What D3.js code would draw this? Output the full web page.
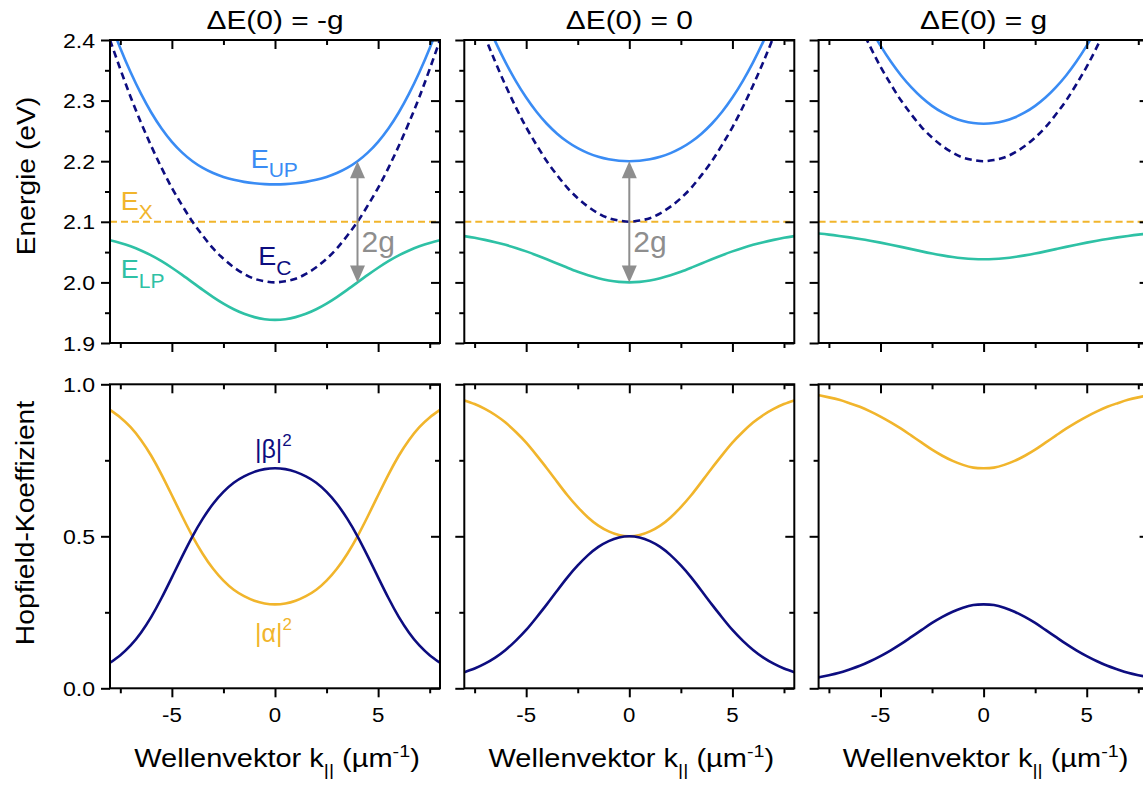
<!DOCTYPE html>
<html><head><meta charset="utf-8">
<script src="https://cdn.jsdelivr.net/npm/d3@7"></script>
<style>
body{margin:0;background:#fff}
svg{display:block}
text{font-family:"Liberation Sans",Arial,Helvetica,sans-serif}
</style>
</head><body>
<svg id="c" width="1143" height="785"></svg>
<script>
// ---------------- data ----------------
const kValues = [-8,-7.5,-7,-6.5,-6,-5.5,-5,-4.5,-4,-3.5,-3,-2.5,-2,-1.5,-1,-0.5,0,0.5,1,1.5,2,2.5,3,3.5,4,4.5,5,5.5,6,6.5,7,7.5,8];
const panelTitles = ["ΔE(0) = -g", "ΔE(0) = 0", "ΔE(0) = g"];
const excitonLevel = 2.1;
const kRange = [-8, 8];

// panel A: ΔE(0) = -g
const upperA = [2.4303,2.3865,2.3468,2.3114,2.2804,2.2540,2.2320,2.2142,2.2000,2.1890,2.1805,2.1741,2.1693,2.1659,2.1636,2.1622,2.1618,2.1622,2.1636,2.1659,2.1693,2.1741,2.1805,2.1890,2.2000,2.2142,2.2320,2.2540,2.2804,2.3114,2.3468,2.3865,2.4303];
const lowerA = [2.0697,2.0651,2.0595,2.0527,2.0446,2.0351,2.0242,2.0124,2.0000,1.9876,1.9758,1.9650,1.9557,1.9482,1.9427,1.9393,1.9382,1.9393,1.9427,1.9482,1.9557,1.9650,1.9758,1.9876,2.0000,2.0124,2.0242,2.0351,2.0446,2.0527,2.0595,2.0651,2.0697];
const cavityA = [2.400,2.352,2.306,2.264,2.225,2.189,2.156,2.127,2.100,2.077,2.056,2.039,2.025,2.014,2.006,2.002,2.000,2.002,2.006,2.014,2.025,2.039,2.056,2.077,2.100,2.127,2.156,2.189,2.225,2.264,2.306,2.352,2.400];
const betaA  = [0.084,0.109,0.141,0.183,0.235,0.297,0.365,0.434,0.500,0.558,0.607,0.646,0.676,0.697,0.712,0.721,0.724,0.721,0.712,0.697,0.676,0.646,0.607,0.558,0.500,0.434,0.365,0.297,0.235,0.183,0.141,0.109,0.084];
const alphaA = [0.916,0.891,0.859,0.817,0.765,0.703,0.635,0.566,0.500,0.442,0.393,0.354,0.324,0.303,0.288,0.279,0.276,0.279,0.288,0.303,0.324,0.354,0.393,0.442,0.500,0.566,0.635,0.703,0.765,0.817,0.859,0.891,0.916];

// panel B: ΔE(0) = 0
const upperB = [2.5236,2.4780,2.4360,2.3977,2.3630,2.3321,2.3050,2.2816,2.2618,2.2454,2.2320,2.2214,2.2133,2.2073,2.2032,2.2008,2.2000,2.2008,2.2032,2.2073,2.2133,2.2214,2.2320,2.2454,2.2618,2.2816,2.3050,2.3321,2.3630,2.3977,2.4360,2.4780,2.5236];
const lowerB = [2.0764,2.0736,2.0702,2.0664,2.0620,2.0569,2.0512,2.0449,2.0382,2.0312,2.0243,2.0176,2.0117,2.0068,2.0031,2.0008,2.0000,2.0008,2.0031,2.0068,2.0117,2.0176,2.0243,2.0312,2.0382,2.0449,2.0512,2.0569,2.0620,2.0664,2.0702,2.0736,2.0764];
const cavityB = [2.500,2.452,2.406,2.364,2.325,2.289,2.256,2.227,2.200,2.177,2.156,2.139,2.125,2.114,2.106,2.102,2.100,2.102,2.106,2.114,2.125,2.139,2.156,2.177,2.200,2.227,2.256,2.289,2.325,2.364,2.406,2.452,2.500];
const betaB  = [0.053,0.065,0.081,0.101,0.126,0.157,0.192,0.233,0.276,0.321,0.365,0.404,0.438,0.465,0.484,0.496,0.500,0.496,0.484,0.465,0.438,0.404,0.365,0.321,0.276,0.233,0.192,0.157,0.126,0.101,0.081,0.065,0.053];
const alphaB = [0.947,0.935,0.919,0.899,0.874,0.843,0.808,0.767,0.724,0.679,0.635,0.596,0.562,0.535,0.516,0.504,0.500,0.504,0.516,0.535,0.562,0.596,0.635,0.679,0.724,0.767,0.808,0.843,0.874,0.899,0.919,0.935,0.947];

// panel C: ΔE(0) = g
const upperC = [2.6193,2.5727,2.5295,2.4897,2.4533,2.4203,2.3907,2.3644,2.3414,2.3217,2.3050,2.2913,2.2804,2.2722,2.2664,2.2629,2.2618,2.2629,2.2664,2.2722,2.2804,2.2913,2.3050,2.3217,2.3414,2.3644,2.3907,2.4203,2.4533,2.4897,2.5295,2.5727,2.6193];
const lowerC = [2.0807,2.0789,2.0767,2.0743,2.0717,2.0688,2.0656,2.0622,2.0586,2.0549,2.0512,2.0477,2.0446,2.0419,2.0399,2.0386,2.0382,2.0386,2.0399,2.0419,2.0446,2.0477,2.0512,2.0549,2.0586,2.0622,2.0656,2.0688,2.0717,2.0743,2.0767,2.0789,2.0807];
const cavityC = [2.600,2.552,2.506,2.464,2.425,2.389,2.356,2.327,2.300,2.277,2.256,2.239,2.225,2.214,2.206,2.202,2.200,2.202,2.206,2.214,2.225,2.239,2.256,2.277,2.300,2.327,2.356,2.389,2.425,2.464,2.506,2.552,2.600];
const betaC  = [0.036,0.043,0.051,0.062,0.074,0.089,0.106,0.125,0.146,0.169,0.192,0.215,0.235,0.252,0.265,0.274,0.276,0.274,0.265,0.252,0.235,0.215,0.192,0.169,0.146,0.125,0.106,0.089,0.074,0.062,0.051,0.043,0.036];
const alphaC = [0.964,0.957,0.949,0.938,0.926,0.911,0.894,0.875,0.854,0.831,0.808,0.785,0.765,0.748,0.735,0.726,0.724,0.726,0.735,0.748,0.765,0.785,0.808,0.831,0.854,0.875,0.894,0.911,0.926,0.938,0.949,0.957,0.964];

// tick labels
const energyTicks = [1.9, 2.0, 2.1, 2.2, 2.3, 2.4];
const energyTickLabels = ["1.9","2.0","2.1","2.2","2.3","2.4"];
const energyMinor = [1.95, 2.05, 2.15, 2.25, 2.35];
const hopTicks = [0, 0.5, 1.0];
const hopTickLabels = ["0.0","0.5","1.0"];
const hopMinor = [0.25, 0.75];
const kTicks = [-5, 0, 5];
const kTickLabels = ["-5","0","5"];
const kMinor = [-7.5, -2.5, 2.5, 7.5];

// 2g arrows
const rabiArrows = [{panel:0, k:4, top:2.2, bottom:2.0}, {panel:1, k:0, top:2.2, bottom:2.0}];

// ---------------- layout & style ----------------
const colors = {up:"#3a8cf4", lp:"#2ec1a5", cav:"#0d0d80", ex:"#f1b52c", beta:"#0d0d80", alpha:"#f1b52c", gray:"#8e8e8e"};
const colLeft = [110, 464.3, 818.6];
const panelW = 330;
const topRow = {y0:40, y1:343};
const botRow = {y0:384.3, y1:688.3};

const svg = d3.select("#c");
const defs = svg.append("defs");

function addText(parent, x, y, parts, o) {
  const g = parent.append("g").attr("transform", `translate(${x},${y}) rotate(${o.rotate||0}) scale(${o.sx||1},1)`);
  const t = g.append("text").attr("x",0).attr("y",0)
    .attr("text-anchor", o.anchor||"start").attr("fill", o.fill||"#000")
    .style("font-size", o.size+"px");
  let cur = 0;
  parts.forEach(p => {
    if (typeof p === "string") p = {t:p};
    const sh = p.shift||0;
    t.append("tspan").attr("dy", sh-cur).style("font-size", (p.s||o.size)+"px").text(p.t);
    cur = sh;
  });
  return g;
}

const panels = [
  {up:upperA, lp:lowerA, cav:cavityA, beta:betaA, alpha:alphaA},
  {up:upperB, lp:lowerB, cav:cavityB, beta:betaB, alpha:alphaB},
  {up:upperC, lp:lowerC, cav:cavityC, beta:betaC, alpha:alphaC}
];

const yE = d3.scaleLinear().domain([1.9, 2.4]).range([topRow.y1, topRow.y0]);
const yH = d3.scaleLinear().domain([0, 1]).range([botRow.y1, botRow.y0]);

function drawAxes(g, x, y, row, yMajor, yMinorV) {
  const x0 = x.range()[0], x1 = x.range()[1];
  const mk = (axis, tx, ty, vals, size) => {
    const a = g.append("g").attr("transform", `translate(${tx},${ty})`)
      .call(axis.tickValues(vals).tickSize(size).tickSizeOuter(0).tickFormat(() => ""));
    a.select(".domain").remove();
    a.selectAll("line").attr("stroke", "#000").attr("stroke-width", 2);
  };
  mk(d3.axisBottom(x), 0, row.y1, kTicks, 9);
  mk(d3.axisBottom(x), 0, row.y1, kMinor, 5);
  mk(d3.axisBottom(x), 0, row.y0, kTicks, 9);
  mk(d3.axisBottom(x), 0, row.y0, kMinor, 5);
  mk(d3.axisLeft(y), x0, 0, yMajor, 9);
  mk(d3.axisLeft(y), x0, 0, yMinorV, 5);
  mk(d3.axisLeft(y), x1, 0, yMajor, 9);
  mk(d3.axisLeft(y), x1, 0, yMinorV, 5);
  g.append("rect").attr("x", x0).attr("y", row.y0).attr("width", x1-x0).attr("height", row.y1-row.y0)
    .attr("fill", "none").attr("stroke", "#000").attr("stroke-width", 2);
}

panels.forEach((p, i) => {
  const x = d3.scaleLinear().domain(kRange).range([colLeft[i], colLeft[i] + panelW]);
  const g = svg.append("g");
  const cx = colLeft[i] + panelW/2;

  defs.append("clipPath").attr("id", "clipT"+i).append("rect")
    .attr("x", colLeft[i]).attr("y", topRow.y0).attr("width", panelW).attr("height", topRow.y1-topRow.y0);
  defs.append("clipPath").attr("id", "clipB"+i).append("rect")
    .attr("x", colLeft[i]).attr("y", botRow.y0).attr("width", panelW).attr("height", botRow.y1-botRow.y0);

  const lineE = d3.line().x((d, j) => x(kValues[j])).y(d => yE(d)).curve(d3.curveNatural);
  const gt = g.append("g").attr("clip-path", `url(#clipT${i})`);
  gt.append("path").datum(kRange).attr("d", d3.line().x(d => x(d)).y(() => yE(excitonLevel)))
    .attr("fill","none").attr("stroke", colors.ex).attr("stroke-width", 2).attr("stroke-dasharray", "7,4");
  gt.append("path").datum(p.lp).attr("d", lineE).attr("fill","none").attr("stroke", colors.lp).attr("stroke-width", 2.6);
  gt.append("path").datum(p.cav).attr("d", lineE).attr("fill","none").attr("stroke", colors.cav).attr("stroke-width", 2.6).attr("stroke-dasharray", "7,4.5");
  gt.append("path").datum(p.up).attr("d", lineE).attr("fill","none").attr("stroke", colors.up).attr("stroke-width", 2.6);

  const lineH = d3.line().x((d, j) => x(kValues[j])).y(d => yH(d)).curve(d3.curveNatural);
  const gb = g.append("g").attr("clip-path", `url(#clipB${i})`);
  gb.append("path").datum(p.alpha).attr("d", lineH).attr("fill","none").attr("stroke", colors.alpha).attr("stroke-width", 2.6);
  gb.append("path").datum(p.beta).attr("d", lineH).attr("fill","none").attr("stroke", colors.beta).attr("stroke-width", 2.6);

  rabiArrows.filter(a => a.panel === i).forEach(a => {
    const ax = x(a.k), yt = yE(a.top), yb = yE(a.bottom), hl = 17, hw = 7.5;
    g.append("line").attr("x1", ax).attr("x2", ax).attr("y1", yt+hl-2).attr("y2", yb-hl+2)
      .attr("stroke", colors.gray).attr("stroke-width", 2);
    g.append("path").attr("d", `M${ax},${yt} L${ax-hw},${yt+hl} L${ax+hw},${yt+hl} Z`).attr("fill", colors.gray);
    g.append("path").attr("d", `M${ax},${yb} L${ax-hw},${yb-hl} L${ax+hw},${yb-hl} Z`).attr("fill", colors.gray);
    addText(g, ax + 4, yE(2.0507), ["2g"], {size:30, fill:colors.gray});
  });

  drawAxes(g, x, yE, topRow, energyTicks, energyMinor);
  drawAxes(g, x, yH, botRow, hopTicks, hopMinor);

  addText(g, cx, 28.5, [panelTitles[i]], {size:26, anchor:"middle", sx:1.15});

  kTicks.forEach((v, j) => addText(g, x(v), 722, [kTickLabels[j]], {size:21, anchor:"middle", sx:1.06}));

  addText(g, cx + 2, 766.7, ["Wellenvektor k", {t:"||", s:17, shift:9}, {t:" (µm", shift:0}, {t:"-1", s:17, shift:-10}, {t:")", shift:0}],
    {size:25, anchor:"middle", sx:1.16});

  if (i === 0) {
    energyTicks.forEach((v, j) => addText(g, colLeft[0]-15, yE(v)+7.5, [energyTickLabels[j]], {size:21, anchor:"end", sx:1.1}));
    hopTicks.forEach((v, j) => addText(g, colLeft[0]-15, yH(v)+7.5, [hopTickLabels[j]], {size:21, anchor:"end", sx:1.1}));
    addText(g, x(-1.18), yE(2.188), ["E", {t:"UP", s:19.5, shift:9}], {size:25, fill:colors.up, sx:1.08});
    addText(g, x(-7.48), yE(2.1187), ["E", {t:"X", s:19.5, shift:9}], {size:25, fill:colors.ex, sx:1.08});
    addText(g, x(-0.81), yE(2.0287), ["E", {t:"C", s:19.5, shift:9.5}], {size:25, fill:colors.cav, sx:1.08});
    addText(g, x(-7.48), yE(2.0068), ["E", {t:"LP", s:19.5, shift:9.5}], {size:25, fill:colors.lp, sx:1.08});
    addText(g, x(-0.97), yH(0.7576), ["|β|", {t:"2", s:17, shift:-12}], {size:25, fill:colors.beta});
    addText(g, x(-0.97), yH(0.1523), ["|α|", {t:"2", s:17, shift:-12}], {size:25, fill:colors.alpha});
  }
});

addText(svg, 35, 176, ["Energie (eV)"], {size:25, anchor:"middle", rotate:-90, sx:1.13});
addText(svg, 34, 523, ["Hopfield-Koeffizient"], {size:25, anchor:"middle", rotate:-90, sx:1.13});
</script>
</body></html>
